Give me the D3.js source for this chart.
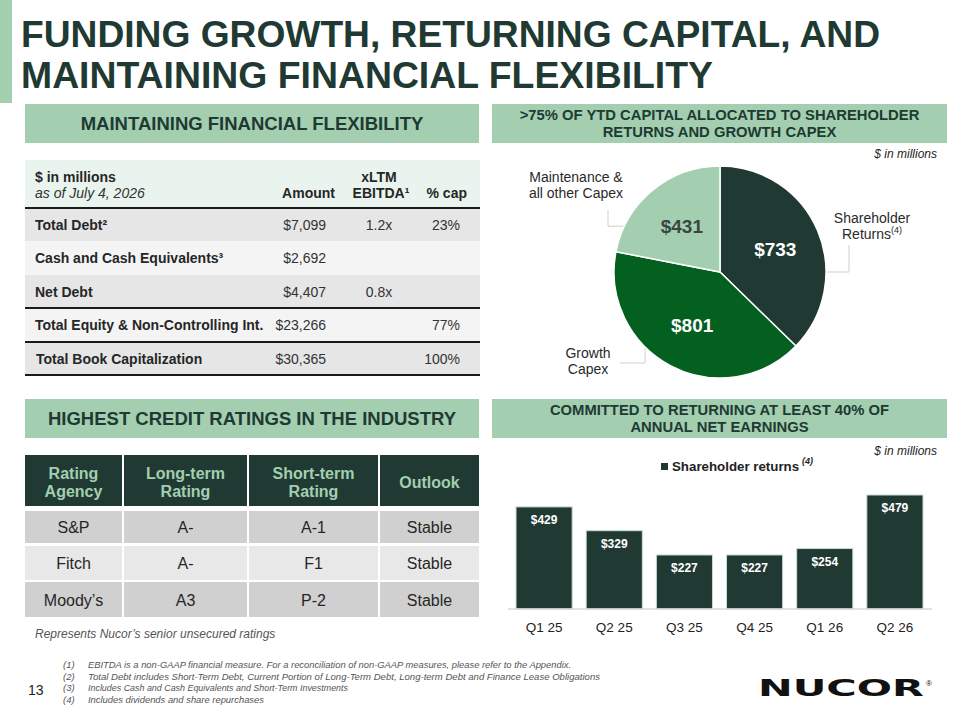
<!DOCTYPE html>
<html>
<head>
<meta charset="utf-8">
<script src="https://cdn.jsdelivr.net/npm/d3@7"></script>
<style>
  body { margin: 0; background: #fff; }
  svg { display: block; font-family: "Liberation Sans", Arial, sans-serif; }
</style>
</head>
<body>
<svg id="slide" width="960" height="720"></svg>
<script>
// ---- data ----
const titleLines = ['FUNDING GROWTH, RETURNING CAPITAL, AND', 'MAINTAINING FINANCIAL FLEXIBILITY']

const capLabels = ['Total Debt²', 'Cash and Cash Equivalents³', 'Net Debt', 'Total Equity & Non-Controlling Int.', 'Total Book Capitalization']
const capAmounts = ['$7,099', '$2,692', '$4,407', '$23,266', '$30,365']
const capEbitda = ['1.2x', '', '0.8x', '', '']
const capPct = ['23%', '', '', '77%', '100%']

const ratingHeads = [['Rating', 'Agency'], ['Long-term', 'Rating'], ['Short-term', 'Rating'], ['Outlook']]
const agencies = ['S&P', 'Fitch', 'Moody’s']
const longTerm = ['A-', 'A-', 'A3']
const shortTerm = ['A-1', 'F1', 'P-2']
const outlook = ['Stable', 'Stable', 'Stable']

const pieLabels = [['Shareholder', 'Returns'], ['Growth', 'Capex'], ['Maintenance &', 'all other Capex']]
const pieValues = [733, 801, 431]

const quarters = ['Q1 25', 'Q2 25', 'Q3 25', 'Q4 25', 'Q1 26', 'Q2 26']
const shareholderReturns = [429, 329, 227, 227, 254, 479]

const footnotes = [
  'EBITDA is a non-GAAP financial measure. For a reconciliation of non-GAAP measures, please refer to the Appendix.',
  'Total Debt includes Short-Term Debt, Current Portion of Long-Term Debt, Long-term Debt and Finance Lease Obligations',
  'Includes Cash and Cash Equivalents and Short-Term Investments',
  'Includes dividends and share repurchases'
]

// ---- colours ----
const DARK = '#203a33'
const MINT = '#a3cfb0'
const GREEN = '#03601f'
const TEXT = '#262626'

const svg = d3.select('#slide')

/**
 * Small helper to drop a text node on the svg.
 */
function label (g, x, y, str, opts = {}) {
  const t = g.append('text')
    .attr('x', x)
    .attr('y', y)
    .attr('font-size', opts.size || 14)
    .attr('font-weight', opts.weight || 'normal')
    .attr('font-style', opts.style || 'normal')
    .attr('text-anchor', opts.anchor || 'start')
    .attr('fill', opts.fill || TEXT)
    .text(str)
  if (opts.length) t.attr('textLength', opts.length).attr('lengthAdjust', 'spacingAndGlyphs')
  if (opts.family) t.attr('font-family', opts.family)
  return t
}

// ---- title ----
svg.append('rect').attr('x', 0).attr('y', 0).attr('width', 12).attr('height', 103).attr('fill', MINT)
label(svg, 21, 47, titleLines[0], { size: 37, weight: 'bold', fill: DARK, length: 859 })
label(svg, 21, 88, titleLines[1], { size: 37, weight: 'bold', fill: DARK, length: 692 })

// ---- section headers ----
function header (x, y, w, h, lines, size) {
  const g = svg.append('g')
  g.append('rect').attr('x', x).attr('y', y).attr('width', w).attr('height', h).attr('fill', MINT)
  const cy = y + h / 2
  const gap = lines.length > 1 ? 17 : 0
  lines.forEach((ln, i) => {
    label(g, x + w / 2, cy + size * 0.36 + (i - (lines.length - 1) / 2) * gap, ln,
      { size: size, weight: 'bold', fill: DARK, anchor: 'middle' })
  })
}
header(25, 104, 454, 39, ['MAINTAINING FINANCIAL FLEXIBILITY'], 18.5)
header(492, 104, 455, 39, ['>75% OF YTD CAPITAL ALLOCATED TO SHAREHOLDER', 'RETURNS AND GROWTH CAPEX'], 14.8)
header(25, 399, 454, 39, ['HIGHEST CREDIT RATINGS IN THE INDUSTRY'], 18.5)
header(492, 399, 455, 39, ['COMMITTED TO RETURNING AT LEAST 40% OF', 'ANNUAL NET EARNINGS'], 14.8)

// ---- capitalization table ----
const cap = svg.append('g')
cap.append('rect').attr('x', 25).attr('y', 160).attr('width', 455).attr('height', 48).attr('fill', '#eaf4ee')
label(cap, 35, 182, '$ in millions', { weight: 'bold' })
label(cap, 35, 198, 'as of July 4, 2026', { style: 'italic', fill: '#333' })
label(cap, 379, 182, 'xLTM', { weight: 'bold', anchor: 'middle' })
label(cap, 335, 198, 'Amount', { weight: 'bold', anchor: 'end' })
label(cap, 381, 198, 'EBITDA¹', { weight: 'bold', anchor: 'middle' })
label(cap, 467, 198, '% cap', { weight: 'bold', anchor: 'end' })

const rowTops = [208, 241, 275, 308, 342, 375]
const rowFill = ['#e6e6e6', '#f4f4f4', '#e6e6e6', '#f4f4f4', '#e6e6e6']
capLabels.forEach((lab, i) => {
  const top = rowTops[i]
  cap.append('rect').attr('x', 25).attr('y', top).attr('width', 455)
    .attr('height', rowTops[i + 1] - top).attr('fill', rowFill[i])
  const base = top + 22
  label(cap, i === 4 ? 36 : 35, base, lab, { weight: 'bold' })
  label(cap, 326, base, capAmounts[i], { anchor: 'end', fill: '#333' })
  label(cap, 379, base, capEbitda[i], { anchor: 'middle', fill: '#333' })
  label(cap, 460, base, capPct[i], { anchor: 'end', fill: '#333' })
})
// heavy rules
;[208, 308, 342, 375].forEach(y => {
  cap.append('line').attr('x1', 25).attr('x2', 480).attr('y1', y).attr('y2', y)
    .attr('stroke', '#1a1a1a').attr('stroke-width', 2)
})

// ---- ratings table ----
const rat = svg.append('g')
const colEdges = [[25, 122], [124, 247], [249, 378], [380, 479]]
const bodyRows = [[511, 543], [546, 580], [582, 617]]
const bodyFill = ['#d0d0d0', '#e8e8e8', '#d0d0d0']
const bodyBase = [533, 569, 606]
const columns = [agencies, longTerm, shortTerm, outlook]

colEdges.forEach(([x0, x1], c) => {
  const cx = (x0 + x1) / 2
  rat.append('rect').attr('x', x0).attr('y', 455).attr('width', x1 - x0).attr('height', 51).attr('fill', DARK)
  const heads = ratingHeads[c]
  if (heads.length === 2) {
    label(rat, cx, 479, heads[0], { size: 16, weight: 'bold', fill: MINT, anchor: 'middle' })
    label(rat, cx, 497, heads[1], { size: 16, weight: 'bold', fill: MINT, anchor: 'middle' })
  } else {
    label(rat, cx, 488, heads[0], { size: 16, weight: 'bold', fill: MINT, anchor: 'middle' })
  }
  bodyRows.forEach(([y0, y1], r) => {
    rat.append('rect').attr('x', x0).attr('y', y0).attr('width', x1 - x0).attr('height', y1 - y0).attr('fill', bodyFill[r])
    label(rat, cx, bodyBase[r], columns[c][r], { size: 16, anchor: 'middle' })
  })
})
label(rat, 35, 638, 'Represents Nucor’s senior unsecured ratings', { size: 12, style: 'italic', fill: '#555' })

// ---- pie chart ----
label(svg, 937, 158, '$ in millions', { size: 12, style: 'italic', fill: '#222', anchor: 'end' })
const pieC = { x: 720, y: 272 }
const R = 106
const pieG = svg.append('g').attr('transform', `translate(${pieC.x},${pieC.y})`)
const pie = d3.pie().sort(null).value(d => d)
const arcs = pie(pieValues)
const arc = d3.arc().innerRadius(0).outerRadius(R)
const labelArc = d3.arc().innerRadius(60).outerRadius(60)
const sliceFill = [DARK, GREEN, MINT]
const valueFill = ['#fff', '#fff', '#3a4641']

pieG.selectAll('path.slice').data(arcs).join('path')
  .attr('class', 'slice')
  .attr('d', arc)
  .attr('fill', (d, i) => sliceFill[i])
  .attr('stroke', '#fff')
  .attr('stroke-width', 1.5)

pieG.selectAll('text.val').data(arcs).join('text')
  .attr('class', 'val')
  .attr('transform', d => `translate(${labelArc.centroid(d)})`)
  .attr('dy', '0.36em')
  .attr('text-anchor', 'middle')
  .attr('font-size', 19)
  .attr('font-weight', 'bold')
  .attr('fill', (d, i) => valueFill[i])
  .text(d => '$' + d.value)

// outside labels with elbow leaders (angle where leader meets the rim)
const leaderAngle = [90, 225, 295.6]
const leaderElbow = [[849, 245], [620, 363], [608, 210]]
const labelPos = [[872, 223, 'middle'], [588, 358, 'middle'], [576, 182, 'middle']]
arcs.forEach((d, i) => {
  const a = leaderAngle[i] * Math.PI / 180
  const px = pieC.x + Math.sin(a) * R
  const py = pieC.y - Math.cos(a) * R
  const [ex, ey] = leaderElbow[i]
  let pts
  if (i === 0) pts = [[px + 1, py], [ex, py], [ex, ey]]
  else if (i === 1) pts = [[px, py + 1], [px, ey], [ex, ey]]
  else pts = [[px - 1, py], [ex, py], [ex, ey]]
  svg.append('path').attr('d', d3.line()(pts)).attr('fill', 'none')
    .attr('stroke', '#cfcfcf').attr('stroke-width', 1)
  const [lx, ly, anchor] = labelPos[i]
  const t = label(svg, lx, ly, pieLabels[i][0], { size: 14, fill: '#2a2a2a', anchor: anchor })
  const t2 = label(svg, lx, ly + 16, pieLabels[i][1], { size: 14, fill: '#2a2a2a', anchor: anchor })
  if (i === 0) t2.append('tspan').attr('font-size', 9).attr('dy', -6).text('(4)')
})

// ---- bar chart ----
label(svg, 937, 455, '$ in millions', { size: 12, style: 'italic', fill: '#222', anchor: 'end' })
const legend = svg.append('g')
legend.append('rect').attr('x', 661).attr('y', 463).attr('width', 7).attr('height', 7).attr('fill', DARK)
const lt = label(legend, 672, 471, 'Shareholder returns', { size: 13.3, weight: 'bold', fill: '#222' })
lt.append('tspan').attr('font-size', 9).attr('font-style', 'italic').attr('dx', 3).attr('dy', -7).text('(4)')

const x = d3.scaleBand().domain(quarters).range([509, 930]).paddingInner(0.2).paddingOuter(0.1)
const y = d3.scaleLinear().domain([0, 479]).range([609, 495])

const barG = svg.append('g')
barG.selectAll('rect').data(shareholderReturns).join('rect')
  .attr('x', (d, i) => x(quarters[i]))
  .attr('y', d => y(d))
  .attr('width', x.bandwidth())
  .attr('height', d => y(0) - y(d))
  .attr('fill', DARK)
  .attr('stroke', '#c9dbd0')
  .attr('stroke-width', 1)

barG.selectAll('text').data(shareholderReturns).join('text')
  .attr('x', (d, i) => x(quarters[i]) + x.bandwidth() / 2)
  .attr('y', d => y(d) + 17)
  .attr('text-anchor', 'middle')
  .attr('font-size', 12)
  .attr('font-weight', 'bold')
  .attr('fill', '#fff')
  .text(d => '$' + d)

const xAxis = svg.append('g')
  .attr('transform', `translate(0,${y(0)})`)
  .call(d3.axisBottom(x).tickSize(0).tickPadding(13))
xAxis.select('.domain').attr('d', 'M508,0H932').attr('stroke', '#d9d9d9').attr('stroke-width', 1.5)
xAxis.selectAll('.tick text')
  .attr('font-family', '"Liberation Sans", Arial, sans-serif')
  .attr('font-size', 13.5)
  .attr('fill', '#222')

// ---- footer ----
label(svg, 28, 695, '13', { size: 14, fill: '#222' })
const footLen = [483, 512, 260, 176]
footnotes.forEach((f, i) => {
  const by = 668 + i * 11.7
  label(svg, 63, by, `(${i + 1})`, { size: 9.5, style: 'italic', fill: '#555' })
  label(svg, 88, by, f, { size: 9.5, style: 'italic', fill: '#555', length: footLen[i] })
})
label(svg, 758, 696, 'NUCOR', { size: 23, weight: 'bold', fill: '#111', length: 166, family: '"DejaVu Sans", sans-serif' })
label(svg, 926, 686, '®', { size: 8, fill: '#111' })
</script>
</body>
</html>
